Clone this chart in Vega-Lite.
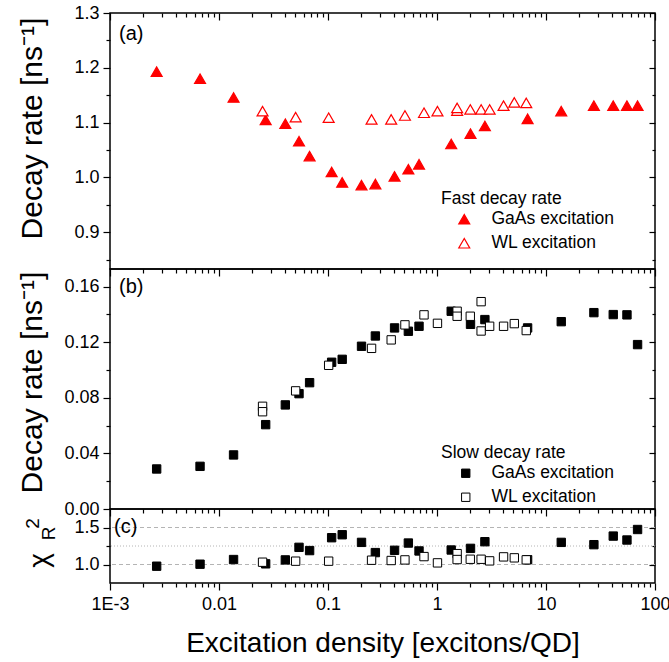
{
  "$schema": "https://vega.github.io/schema/vega-lite/v6.json",
  "background": "white",
  "padding": {"left": 16, "top": 3, "right": 2, "bottom": 3},
  "spacing": 0,
  "bounds": "flush",
  "config": {
    "font": "Liberation Sans",
    "view": {"stroke": "black", "strokeWidth": 1.5},
    "concat": {"spacing": 0},
    "axis": {
      "domain": false, "grid": false, "tickColor": "black", "tickWidth": 1.2,
      "labelColor": "black", "titleColor": "black", "labelFont": "Liberation Sans",
      "titleFont": "Liberation Sans", "labelFontSize": 18, "titleFontSize": 30,
      "titleFontWeight": "normal", "labelOverlap": false, "labelFlush": false
    },
    "legend": {
      "orient": "none", "titleFontSize": 17.5, "labelFontSize": 17.5, "titleFontWeight": "normal",
      "titleColor": "black", "labelColor": "black", "titleFont": "Liberation Sans", "labelFont": "Liberation Sans",
      "padding": 0, "rowPadding": 5, "titlePadding": 3
    },
    "text": {"font": "Liberation Sans", "fontSize": 20, "color": "black", "align": "left", "baseline": "middle"}
  },
  "datasets": {
    "fast": [
      {"x": 0.00268, "y": 1.193, "series": "GaAs excitation"},
      {"x": 0.0067, "y": 1.180, "series": "GaAs excitation"},
      {"x": 0.0136, "y": 1.146, "series": "GaAs excitation"},
      {"x": 0.0268, "y": 1.105, "series": "GaAs excitation"},
      {"x": 0.0406, "y": 1.098, "series": "GaAs excitation"},
      {"x": 0.0542, "y": 1.066, "series": "GaAs excitation"},
      {"x": 0.0678, "y": 1.039, "series": "GaAs excitation"},
      {"x": 0.108, "y": 1.010, "series": "GaAs excitation"},
      {"x": 0.135, "y": 0.991, "series": "GaAs excitation"},
      {"x": 0.203, "y": 0.986, "series": "GaAs excitation"},
      {"x": 0.272, "y": 0.988, "series": "GaAs excitation"},
      {"x": 0.408, "y": 1.002, "series": "GaAs excitation"},
      {"x": 0.546, "y": 1.015, "series": "GaAs excitation"},
      {"x": 0.684, "y": 1.024, "series": "GaAs excitation"},
      {"x": 1.35, "y": 1.061, "series": "GaAs excitation"},
      {"x": 2.03, "y": 1.080, "series": "GaAs excitation"},
      {"x": 2.75, "y": 1.094, "series": "GaAs excitation"},
      {"x": 6.78, "y": 1.107, "series": "GaAs excitation"},
      {"x": 13.8, "y": 1.121, "series": "GaAs excitation"},
      {"x": 27.5, "y": 1.131, "series": "GaAs excitation"},
      {"x": 41.4, "y": 1.131, "series": "GaAs excitation"},
      {"x": 55.3, "y": 1.131, "series": "GaAs excitation"},
      {"x": 69.2, "y": 1.131, "series": "GaAs excitation"},
      {"x": 0.0251, "y": 1.121, "series": "WL excitation"},
      {"x": 0.0505, "y": 1.110, "series": "WL excitation"},
      {"x": 0.1014, "y": 1.109, "series": "WL excitation"},
      {"x": 0.251, "y": 1.106, "series": "WL excitation"},
      {"x": 0.38, "y": 1.106, "series": "WL excitation"},
      {"x": 0.508, "y": 1.113, "series": "WL excitation"},
      {"x": 0.76, "y": 1.118, "series": "WL excitation"},
      {"x": 1.01, "y": 1.121, "series": "WL excitation"},
      {"x": 1.53, "y": 1.122, "series": "WL excitation"},
      {"x": 1.53, "y": 1.127, "series": "WL excitation"},
      {"x": 2.02, "y": 1.124, "series": "WL excitation"},
      {"x": 2.54, "y": 1.124, "series": "WL excitation"},
      {"x": 3.04, "y": 1.124, "series": "WL excitation"},
      {"x": 4.08, "y": 1.131, "series": "WL excitation"},
      {"x": 5.12, "y": 1.137, "series": "WL excitation"},
      {"x": 6.59, "y": 1.136, "series": "WL excitation"}
    ],
    "slow": [
      {"x": 0.00268, "y": 0.0288, "series": "GaAs excitation"},
      {"x": 0.0067, "y": 0.0307, "series": "GaAs excitation"},
      {"x": 0.0136, "y": 0.0389, "series": "GaAs excitation"},
      {"x": 0.0268, "y": 0.0607, "series": "GaAs excitation"},
      {"x": 0.0406, "y": 0.0749, "series": "GaAs excitation"},
      {"x": 0.0542, "y": 0.0830, "series": "GaAs excitation"},
      {"x": 0.0678, "y": 0.0909, "series": "GaAs excitation"},
      {"x": 0.108, "y": 0.1056, "series": "GaAs excitation"},
      {"x": 0.135, "y": 0.1077, "series": "GaAs excitation"},
      {"x": 0.203, "y": 0.1171, "series": "GaAs excitation"},
      {"x": 0.272, "y": 0.1245, "series": "GaAs excitation"},
      {"x": 0.408, "y": 0.1303, "series": "GaAs excitation"},
      {"x": 0.546, "y": 0.1279, "series": "GaAs excitation"},
      {"x": 0.684, "y": 0.1315, "series": "GaAs excitation"},
      {"x": 1.35, "y": 0.1423, "series": "GaAs excitation"},
      {"x": 2.03, "y": 0.1329, "series": "GaAs excitation"},
      {"x": 2.75, "y": 0.1363, "series": "GaAs excitation"},
      {"x": 6.78, "y": 0.1303, "series": "GaAs excitation"},
      {"x": 13.8, "y": 0.1348, "series": "GaAs excitation"},
      {"x": 27.5, "y": 0.1413, "series": "GaAs excitation"},
      {"x": 41.4, "y": 0.1399, "series": "GaAs excitation"},
      {"x": 55.3, "y": 0.1397, "series": "GaAs excitation"},
      {"x": 69.2, "y": 0.1183, "series": "GaAs excitation"},
      {"x": 0.0251, "y": 0.0739, "series": "WL excitation"},
      {"x": 0.0251, "y": 0.0700, "series": "WL excitation"},
      {"x": 0.0505, "y": 0.0850, "series": "WL excitation"},
      {"x": 0.1014, "y": 0.1034, "series": "WL excitation"},
      {"x": 0.251, "y": 0.1156, "series": "WL excitation"},
      {"x": 0.38, "y": 0.1217, "series": "WL excitation"},
      {"x": 0.508, "y": 0.1325, "series": "WL excitation"},
      {"x": 0.76, "y": 0.1397, "series": "WL excitation"},
      {"x": 1.01, "y": 0.1336, "series": "WL excitation"},
      {"x": 1.53, "y": 0.1423, "series": "WL excitation"},
      {"x": 1.53, "y": 0.1387, "series": "WL excitation"},
      {"x": 2.02, "y": 0.1387, "series": "WL excitation"},
      {"x": 2.54, "y": 0.1492, "series": "WL excitation"},
      {"x": 2.54, "y": 0.1281, "series": "WL excitation"},
      {"x": 3.04, "y": 0.1315, "series": "WL excitation"},
      {"x": 4.08, "y": 0.1315, "series": "WL excitation"},
      {"x": 5.12, "y": 0.1334, "series": "WL excitation"},
      {"x": 6.59, "y": 0.1284, "series": "WL excitation"}
    ],
    "chi": [
      {"x": 0.00268, "y": 0.977, "series": "GaAs excitation"},
      {"x": 0.0067, "y": 1.004, "series": "GaAs excitation"},
      {"x": 0.0136, "y": 1.067, "series": "GaAs excitation"},
      {"x": 0.0268, "y": 1.009, "series": "GaAs excitation"},
      {"x": 0.0406, "y": 1.062, "series": "GaAs excitation"},
      {"x": 0.0542, "y": 1.232, "series": "GaAs excitation"},
      {"x": 0.0678, "y": 1.188, "series": "GaAs excitation"},
      {"x": 0.108, "y": 1.362, "series": "GaAs excitation"},
      {"x": 0.135, "y": 1.402, "series": "GaAs excitation"},
      {"x": 0.203, "y": 1.299, "series": "GaAs excitation"},
      {"x": 0.272, "y": 1.161, "series": "GaAs excitation"},
      {"x": 0.408, "y": 1.192, "series": "GaAs excitation"},
      {"x": 0.546, "y": 1.290, "series": "GaAs excitation"},
      {"x": 0.684, "y": 1.183, "series": "GaAs excitation"},
      {"x": 1.35, "y": 1.196, "series": "GaAs excitation"},
      {"x": 2.03, "y": 1.218, "series": "GaAs excitation"},
      {"x": 2.75, "y": 1.308, "series": "GaAs excitation"},
      {"x": 6.78, "y": 1.065, "series": "GaAs excitation"},
      {"x": 13.8, "y": 1.299, "series": "GaAs excitation"},
      {"x": 27.5, "y": 1.268, "series": "GaAs excitation"},
      {"x": 41.4, "y": 1.384, "series": "GaAs excitation"},
      {"x": 55.3, "y": 1.331, "series": "GaAs excitation"},
      {"x": 69.2, "y": 1.473, "series": "GaAs excitation"},
      {"x": 0.0251, "y": 1.031, "series": "WL excitation"},
      {"x": 0.0505, "y": 1.045, "series": "WL excitation"},
      {"x": 0.1014, "y": 1.045, "series": "WL excitation"},
      {"x": 0.251, "y": 1.058, "series": "WL excitation"},
      {"x": 0.38, "y": 1.054, "series": "WL excitation"},
      {"x": 0.508, "y": 1.062, "series": "WL excitation"},
      {"x": 0.76, "y": 1.107, "series": "WL excitation"},
      {"x": 1.01, "y": 1.022, "series": "WL excitation"},
      {"x": 1.53, "y": 1.147, "series": "WL excitation"},
      {"x": 1.53, "y": 1.067, "series": "WL excitation"},
      {"x": 2.02, "y": 1.071, "series": "WL excitation"},
      {"x": 2.54, "y": 1.071, "series": "WL excitation"},
      {"x": 3.04, "y": 1.049, "series": "WL excitation"},
      {"x": 4.08, "y": 1.103, "series": "WL excitation"},
      {"x": 5.12, "y": 1.090, "series": "WL excitation"},
      {"x": 6.59, "y": 1.063, "series": "WL excitation"}
    ],
    "grid": [
      {"g": 1.0, "style": "dash"},
      {"g": 1.25, "style": "dot"},
      {"g": 1.5, "style": "dash"}
    ]
  },
  "resolve": {"scale": {"fill": "independent"}, "legend": {"fill": "independent"}},
  "vconcat": [
    {
      "width": 545, "height": 256,
      "data": {"name": "fast"},
      "layer": [
        {
          "mark": {"type": "point", "shape": "triangle-up", "size": 120, "stroke": "red", "strokeWidth": 1.2, "filled": true, "opacity": 1},
          "encoding": {
            "x": {"field": "x", "type": "quantitative", "scale": {"type": "log", "domain": [0.001, 100], "nice": false},
              "axis": {"orient": "top", "title": null, "labels": false,
                "values": [0.001,0.002,0.003,0.004,0.005,0.006,0.007,0.008,0.009,0.01,0.02,0.03,0.04,0.05,0.06,0.07,0.08,0.09,0.1,0.2,0.3,0.4,0.5,0.6,0.7,0.8,0.9,1,2,3,4,5,6,7,8,9,10,20,30,40,50,60,70,80,90,100],
                "tickSize": {"condition": {"test": "abs(log(datum.value)/LN10 - round(log(datum.value)/LN10)) < 0.01", "value": -7}, "value": -4}}},
            "y": {"field": "y", "type": "quantitative", "scale": {"domain": [0.833, 1.3], "nice": false, "zero": false},
              "axis": {"orient": "left", "values": [0.85,0.9,0.95,1.0,1.05,1.1,1.15,1.2,1.25,1.3], "format": ".1f",
                "labelExpr": "abs(datum.value*10 - round(datum.value*10)) < 0.001 ? datum.label : ''",
                "tickSize": {"condition": {"test": "abs(datum.value*10 - round(datum.value*10)) < 0.001", "value": 7}, "value": 4},
                "labelPadding": 4, "title": "Decay rate [ns⁻¹]", "titleX": -63, "titleY": 115}},
            "fill": {"field": "series", "type": "nominal",
              "scale": {"domain": ["GaAs excitation", "WL excitation"], "range": ["#ff0000", "#ffffff"]},
              "legend": {"title": "Fast decay rate", "legendX": 331, "legendY": 177, "symbolType": "triangle-up", "symbolSize": 120,
                "symbolStrokeColor": "#ff0000", "symbolStrokeWidth": 1.2, "symbolOffset": 14.5, "labelOffset": 18.5}}
          }
        },
        {
          "mark": {"type": "point", "opacity": 0},
          "encoding": {
            "x": {"field": "x", "type": "quantitative", "axis": null},
            "y": {"field": "y", "type": "quantitative",
              "axis": {"orient": "right", "title": null, "labels": false, "values": [0.85,0.9,0.95,1.0,1.05,1.1,1.15,1.2,1.25,1.3],
                "tickSize": {"condition": {"test": "abs(datum.value*10 - round(datum.value*10)) < 0.001", "value": -6}, "value": -3}}}
          }
        },
        {
          "data": {"values": [{}]},
          "mark": {"type": "text", "text": "(a)"},
          "encoding": {
            "x": {"datum": 0.00121, "type": "quantitative", "axis": null},
            "y": {"datum": 1.262, "type": "quantitative", "axis": null}
          }
        }
      ],
      "resolve": {"axis": {"x": "independent", "y": "independent"}}
    },
    {
      "width": 545, "height": 240,
      "data": {"name": "slow"},
      "layer": [
        {
          "mark": {"type": "point", "shape": "square", "size": 70, "stroke": "black", "strokeWidth": 1, "filled": true, "opacity": 1},
          "encoding": {
            "x": {"field": "x", "type": "quantitative", "scale": {"type": "log", "domain": [0.001, 100], "nice": false},
              "axis": {"orient": "top", "title": null, "labels": false,
                "values": [0.001,0.002,0.003,0.004,0.005,0.006,0.007,0.008,0.009,0.01,0.02,0.03,0.04,0.05,0.06,0.07,0.08,0.09,0.1,0.2,0.3,0.4,0.5,0.6,0.7,0.8,0.9,1,2,3,4,5,6,7,8,9,10,20,30,40,50,60,70,80,90,100],
                "tickSize": {"condition": {"test": "abs(log(datum.value)/LN10 - round(log(datum.value)/LN10)) < 0.01", "value": -7}, "value": -4}}},
            "y": {"field": "y", "type": "quantitative", "scale": {"domain": [0, 0.1727], "nice": false, "zero": false},
              "axis": {"orient": "left", "values": [0,0.02,0.04,0.06,0.08,0.1,0.12,0.14,0.16], "format": ".2f",
                "labelExpr": "abs(datum.value*25 - round(datum.value*25)) < 0.001 ? datum.label : ''",
                "tickSize": {"condition": {"test": "abs(datum.value*25 - round(datum.value*25)) < 0.001", "value": 7}, "value": 4},
                "labelPadding": 4, "title": "Decay rate [ns⁻¹]", "titleX": -63, "titleY": 113}},
            "fill": {"field": "series", "type": "nominal",
              "scale": {"domain": ["GaAs excitation", "WL excitation"], "range": ["#000000", "#ffffff"]},
              "legend": {"title": "Slow decay rate", "legendX": 331, "legendY": 175, "symbolType": "square", "symbolSize": 70,
                "symbolStrokeColor": "#000000", "symbolStrokeWidth": 1, "symbolOffset": 16, "labelOffset": 17}}
          }
        },
        {
          "mark": {"type": "point", "opacity": 0},
          "encoding": {
            "x": {"field": "x", "type": "quantitative", "axis": null},
            "y": {"field": "y", "type": "quantitative",
              "axis": {"orient": "right", "title": null, "labels": false, "values": [0,0.02,0.04,0.06,0.08,0.1,0.12,0.14,0.16],
                "tickSize": {"condition": {"test": "abs(datum.value*25 - round(datum.value*25)) < 0.001", "value": -6}, "value": -3}}}
          }
        },
        {
          "data": {"values": [{}]},
          "mark": {"type": "text", "text": "(b)"},
          "encoding": {
            "x": {"datum": 0.00121, "type": "quantitative", "axis": null},
            "y": {"datum": 0.1598, "type": "quantitative", "axis": null}
          }
        }
      ],
      "resolve": {"axis": {"x": "independent", "y": "independent"}}
    },
    {
      "width": 545, "height": 74,
      "layer": [
        {
          "data": {"name": "grid"},
          "mark": {"type": "rule", "color": "#b4b4b4", "strokeWidth": 1},
          "encoding": {
            "y": {"field": "g", "type": "quantitative",
              "axis": {"orient": "left", "labels": false, "ticks": false, "title": "2", "titleFontSize": 19, "titleX": -68, "titleY": 14}},
            "strokeDash": {"field": "style", "type": "nominal", "scale": {"domain": ["dash", "dot"], "range": [[4, 3], [1, 2]]}, "legend": null}
          }
        },
        {
          "data": {"name": "chi"},
          "mark": {"type": "point", "shape": "square", "size": 70, "stroke": "black", "strokeWidth": 1, "filled": true, "opacity": 1},
          "encoding": {
            "x": {"field": "x", "type": "quantitative", "scale": {"type": "log", "domain": [0.001, 100], "nice": false},
              "axis": {"orient": "bottom", "title": "Excitation density [excitons/QD]", "titleFontSize": 28, "titlePadding": 16, "format": "~g",
                "values": [0.001,0.002,0.003,0.004,0.005,0.006,0.007,0.008,0.009,0.01,0.02,0.03,0.04,0.05,0.06,0.07,0.08,0.09,0.1,0.2,0.3,0.4,0.5,0.6,0.7,0.8,0.9,1,2,3,4,5,6,7,8,9,10,20,30,40,50,60,70,80,90,100],
                "labelExpr": "abs(log(datum.value)/LN10 - round(log(datum.value)/LN10)) < 0.01 ? (datum.value < 0.002 ? '1E-3' : datum.label) : ''",
                "labelPadding": 5,
                "tickSize": {"condition": {"test": "abs(log(datum.value)/LN10 - round(log(datum.value)/LN10)) < 0.01", "value": 7}, "value": 4}}},
            "y": {"field": "y", "type": "quantitative", "scale": {"domain": [0.75, 1.75], "nice": false, "zero": false},
              "axis": {"orient": "left", "values": [1.0, 1.25, 1.5], "format": ".1f",
                "labelExpr": "abs(datum.value*2 - round(datum.value*2)) < 0.001 ? datum.label : ''",
                "tickSize": {"condition": {"test": "abs(datum.value*2 - round(datum.value*2)) < 0.001", "value": 7}, "value": 4},
                "labelPadding": 4, "title": "χ", "titleFontSize": 28, "titleX": -57, "titleY": 51}},
            "fill": {"field": "series", "type": "nominal",
              "scale": {"domain": ["GaAs excitation", "WL excitation"], "range": ["#000000", "#ffffff"]}, "legend": null}
          }
        },
        {
          "data": {"name": "chi"},
          "mark": {"type": "point", "opacity": 0},
          "encoding": {
            "x": {"field": "x", "type": "quantitative",
              "axis": {"orient": "top", "title": null, "labels": false,
                "values": [0.001,0.002,0.003,0.004,0.005,0.006,0.007,0.008,0.009,0.01,0.02,0.03,0.04,0.05,0.06,0.07,0.08,0.09,0.1,0.2,0.3,0.4,0.5,0.6,0.7,0.8,0.9,1,2,3,4,5,6,7,8,9,10,20,30,40,50,60,70,80,90,100],
                "tickSize": {"condition": {"test": "abs(log(datum.value)/LN10 - round(log(datum.value)/LN10)) < 0.01", "value": -7}, "value": -4}}},
            "y": {"field": "y", "type": "quantitative",
              "axis": {"orient": "right", "title": null, "labels": false, "values": [1.0, 1.25, 1.5],
                "tickSize": {"condition": {"test": "abs(datum.value*2 - round(datum.value*2)) < 0.001", "value": -6}, "value": -3}}}
          }
        },
        {
          "data": {"values": [{}]},
          "mark": {"type": "text", "text": "(c)"},
          "encoding": {
            "x": {"datum": 0.00109, "type": "quantitative", "axis": null},
            "y": {"datum": 1.51, "type": "quantitative",
              "axis": {"orient": "left", "labels": false, "ticks": false, "title": "R", "titleFontSize": 19, "titleX": -52, "titleY": 24}}
          }
        }
      ],
      "resolve": {"axis": {"x": "independent", "y": "independent"}}
    }
  ]
}
